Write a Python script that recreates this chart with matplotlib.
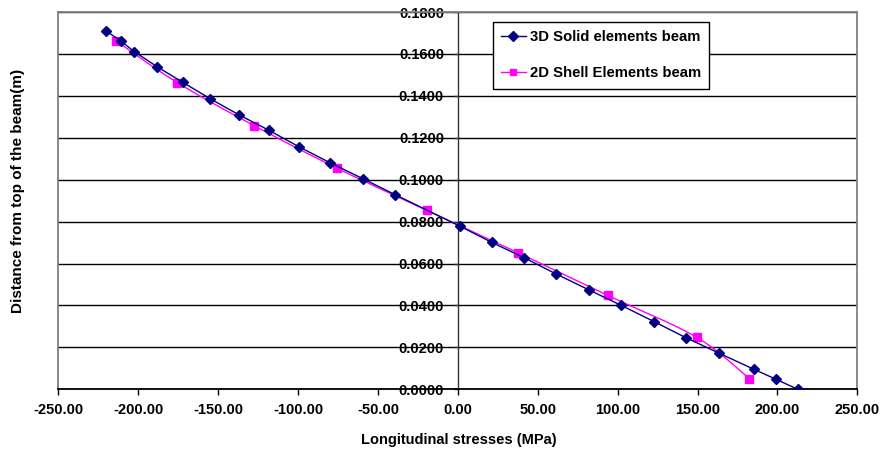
import numpy as np
import matplotlib
matplotlib.use("Agg")
import matplotlib.pyplot as plt
from matplotlib.ticker import FormatStrFormatter

plt.rcParams['font.family'] = ['Liberation Sans', 'DejaVu Sans']

# 3D solid elements beam
solid_stress = [-220.1, -211.0, -202.4, -188.0, -172.2, -154.9, -137.1, -118.3, -99.4, -80.0,
                -59.5, -39.1, 1.4, 21.2, 41.4, 61.6, 82.1, 102.1, 122.8, 142.8,
                163.6, 185.4, 199.1, 212.7]
solid_depth = [0.1710, 0.1662, 0.1611, 0.1538, 0.1465, 0.1386, 0.1310, 0.1236, 0.1157, 0.1081,
               0.1005, 0.0928, 0.0778, 0.0701, 0.0628, 0.0550, 0.0474, 0.0401, 0.0323, 0.0246,
               0.0172, 0.0095, 0.0048, 0.0000]

# 2D shell elements beam
shell_stress = [-213.8, -175.5, -127.5, -75.4, -19.5, 37.5, 93.8, 149.5, 182.4]
shell_depth = [0.1662, 0.1463, 0.1258, 0.1054, 0.0854, 0.0652, 0.0448, 0.0248, 0.0051]

x_ticks = [-250, -200, -150, -100, -50, 0, 50, 100, 150, 200, 250]
y_ticks = [0.0, 0.02, 0.04, 0.06, 0.08, 0.10, 0.12, 0.14, 0.16, 0.18]

label_solid = "3D Solid elements beam"
label_shell = "2D Shell Elements beam"
xlabel = "Longitudinal stresses (MPa)"
ylabel = "Distance from top of the beam(m)"


def smooth(xs, ys, sx, sy, n=30):
    """Excel-like smoothed line (Catmull-Rom Bezier) computed in screen-like units."""
    p = np.column_stack([np.asarray(xs) * sx, np.asarray(ys) * sy])
    out = [p[0]]
    for i in range(len(p) - 1):
        p0 = p[i - 1] if i > 0 else p[i]
        p1 = p[i]
        p2 = p[i + 1]
        p3 = p[i + 2] if i + 2 < len(p) else p[i + 1]
        c1 = p1 + (p2 - p0) / 6.0
        c2 = p2 - (p3 - p1) / 6.0
        t = np.linspace(0, 1, n)[1:, None]
        seg = ((1 - t) ** 3) * p1 + 3 * ((1 - t) ** 2) * t * c1 + 3 * (1 - t) * t ** 2 * c2 + t ** 3 * p2
        out.extend(seg)
    out = np.array(out)
    return out[:, 0] / sx, out[:, 1] / sy


fig = plt.figure(figsize=(8.83, 4.5), dpi=100)
ax = fig.add_axes([58.3 / 883, 1 - 389.3 / 450, (857.3 - 58.3) / 883, (389.3 - 12) / 450])

ax.set_xlim(-250, 250)
ax.set_ylim(0, 0.18)
ax.set_xticks(x_ticks)
ax.set_yticks(y_ticks)
ax.xaxis.set_major_formatter(FormatStrFormatter('%.2f'))
ax.yaxis.set_major_formatter(FormatStrFormatter('%.4f'))

ax.grid(axis='y', color='black', linewidth=1.0, zorder=0)
ax.set_axisbelow(True)

ax.spines['left'].set_position(('data', 0))
ax.spines['left'].set_color('#333333')
ax.spines['left'].set_linewidth(1.0)
ax.spines['bottom'].set_color('black')
ax.spines['bottom'].set_linewidth(1.3)
for s in ('top', 'right'):
    ax.spines[s].set_color('#808080')
    ax.spines[s].set_linewidth(1.3)
ax.plot([0, 0], [0, 1], transform=ax.transAxes, color='#808080', linewidth=1.3,
        clip_on=False, zorder=1)

ax.tick_params(axis='x', direction='out', length=4, width=1, color='black',
               labelsize=10.5, pad=6)
ax.tick_params(axis='y', direction='out', length=3, width=1, color='#333333',
               labelsize=10.5, pad=7)
for lab in ax.get_xticklabels() + ax.get_yticklabels():
    lab.set_fontweight('bold')

ax.plot(solid_stress, solid_depth, color='#000080', linewidth=1.0, marker='D',
        markersize=4.8, markerfacecolor='#000080', markeredgecolor='#000080',
        zorder=4, label=label_solid)

sx, sy = 799 / 500, 377 / 0.18
px, py = smooth(shell_stress, shell_depth, sx, sy)
ax.plot(px, py, color='#FF00FF', linewidth=1.0, zorder=3)
ax.plot(shell_stress, shell_depth, linestyle='none', marker='s', markersize=5.5,
        markerfacecolor='#FF00FF', markeredgecolor='#FF00FF', zorder=3)
# legend proxy
ax.plot([], [], color='#FF00FF', linewidth=1.0, marker='s', markersize=4.5,
        markerfacecolor='#FF00FF', markeredgecolor='#FF00FF', label=label_shell)

handles, labels = ax.get_legend_handles_labels()
leg = fig.legend(handles, labels, loc='upper left',
                 bbox_to_anchor=(493 / 883, 1 - 22 / 450),
                 frameon=True, fancybox=False, edgecolor='black', framealpha=1,
                 prop={'weight': 'bold', 'size': 10.7}, handlelength=1.65,
                 labelspacing=1.5, borderpad=0.55, handletextpad=0.3,
                 borderaxespad=0)
leg.get_frame().set_linewidth(1.0)

fig.text(459 / 883, 1 - 440 / 450, xlabel, ha='center', va='center',
         fontsize=10.5, fontweight='bold')
fig.text(18 / 883, 1 - 191 / 450, ylabel, ha='center', va='center',
         rotation=90, fontsize=11, fontweight='bold')

fig.savefig('out.png', dpi=100)
